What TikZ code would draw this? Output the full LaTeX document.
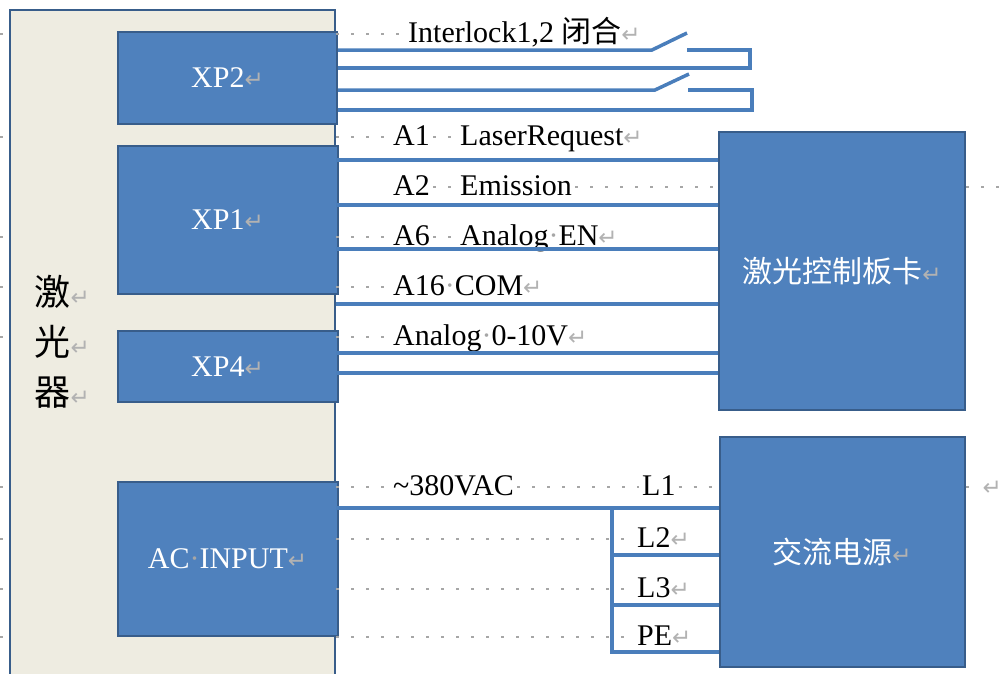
\documentclass[tikz,border=0pt]{standalone}
\usepackage{fontspec}
\setmainfont{Liberation Serif}
\newfontfamily\cjk{Noto Sans CJK SC}
\newfontfamily\retfont{DejaVu Sans}
\usetikzlibrary{positioning,calc}
\definecolor{boxblue}{RGB}{79,129,189}
\definecolor{edgeblue}{RGB}{56,93,138}
\definecolor{wireblue}{RGB}{74,126,187}
\definecolor{laserbg}{RGB}{238,236,225}
\newcommand{\retmark}{{\color{gray!60}\retfont\fontsize{23}{23}\selectfont ↵}}
\newcommand{\spmark}{{\color{gray!70}·}}

\begin{document}
\begin{tikzpicture}[
    x=1pt, y=-1pt,
    node distance=20pt,
    box/.style={rectangle, draw=edgeblue, fill=boxblue, line width=2pt, text=white, font=\fontsize{30}{36}\selectfont},
    laserbox/.style={rectangle, draw=edgeblue, fill=laserbg, line width=2.5pt},
    wire/.style={draw=wireblue, line width=3.5pt},
    leader/.style={draw=gray!70, line width=1.2pt, dash pattern=on 3pt off 12pt},
    lbl/.style={inner sep=0pt, inner xsep=3pt, anchor=west, text height=16pt, text depth=0pt, font=\fontsize{30}{36}\selectfont}
]
\clip (0,0) rectangle (1005,673);
\coordinate (ledge) at (0,0);
\coordinate (redge) at (1005,0);

% laser with its connectors
\node[laserbox, minimum width=325pt, minimum height=690pt] (laser) at (172.5,355) {};
\node[anchor=west, align=left, font=\cjk\fontsize{36}{50}\selectfont] (lasertxt) at (31,342) {激\retmark\\光\retmark\\器\retmark};
\node[box, minimum width=219pt, minimum height=92pt] (xp2) at (227.5,78) {XP2\retmark};
\node[box, minimum width=220pt, minimum height=148pt, below=20pt of xp2] (xp1) {XP1\retmark};
\node[box, minimum width=220pt, minimum height=71pt, below=35pt of xp1] (xp4) {XP4\retmark};
\node[box, minimum width=220pt, minimum height=154pt, below=78pt of xp4] (acin) {AC\spmark INPUT\retmark};

% control card and power supply
\node[box, minimum width=246pt, minimum height=278pt] (ctrl) at (842,271) {\cjk 激光控制板卡\retmark};
\node[box, minimum width=245pt, minimum height=230pt, below=25pt of ctrl] (psu) {\cjk 交流电源\retmark};

% signal labels
\node[lbl] (intl) at (405,34) {Interlock1,2 {\cjk 闭合}\retmark};
\node[lbl] (a1) at (390,137) {A1};
\node[lbl] (lreq) at (457,137) {LaserRequest\retmark};
\node[lbl] (a2) at (390,187) {A2};
\node[lbl] (emis) at (457,187) {Emission};
\node[lbl] (a6) at (390,237) {A6};
\node[lbl] (aen) at (457,237) {Analog\spmark EN\retmark};
\node[lbl] (a16) at (390,287) {A16\spmark COM\retmark};
\node[lbl] (ana) at (390,337) {Analog\spmark 0-10V\retmark};
\node[lbl] (vac) at (390,487) {\textasciitilde 380VAC};
\node[lbl] (l1) at (639,487) {L1};
\node[lbl, anchor=east] (rret) at (1005,487) {\retmark};
\node[lbl] (l2) at (634,539) {L2\retmark};
\node[lbl] (l3) at (634,589) {L3\retmark};
\node[lbl] (pe) at (634,637) {PE\retmark};

% tab leaders
\foreach \y in {34,137,237,287,337,487,539,589,637}
    \draw[leader] (ledge |- 0,\y) -- (laser.west |- 0,\y);
\draw[leader] (laser.east |- intl) -- (intl.west);
\draw[leader] (laser.east |- a1) -- (a1.west);
\draw[leader] (a1.east) -- (lreq.west);
\draw[leader] (a2.east) -- (emis.west);
\draw[leader] (emis.east) -- (ctrl.west |- emis);
\draw[leader] (ctrl.east |- emis) -- (redge |- emis);
\draw[leader] (laser.east |- a6) -- (a6.west);
\draw[leader] (a6.east) -- (aen.west);
\draw[leader] (laser.east |- a16) -- (a16.west);
\draw[leader] (laser.east |- ana) -- (ana.west);
\draw[leader] (laser.east |- vac) -- (vac.west);
\draw[leader] (vac.east) -- (l1.west);
\draw[leader] (l1.east) -- (psu.west |- l1);
\draw[leader] (psu.east |- l1) -- (rret.west);
\foreach \n in {l2,l3,pe}
    \draw[leader] (laser.east |- \n) -- (\n.west);

% interlock loops with switches
\draw[wire] (xp2.east |- 0,50) -- (652,50) -- (687,33);
\draw[wire] (687,50) -- (750,50) -- (750,68) -- (xp2.east |- 0,68);
\draw[wire] (xp2.east |- 0,90) -- (655,90) -- (689,74);
\draw[wire] (688,90) -- (752,90) -- (752,110) -- (xp2.east |- 0,110);

% signal wires to control card
\foreach \y in {160,205,249,304,353,373}
    \draw[wire] (laser.east |- 0,\y) -- (ctrl.west |- 0,\y);

% mains wires
\coordinate (acbus) at (612,508);
\draw[wire] (laser.east |- acbus) -- (acbus) -- (psu.west |- acbus);
\draw[wire] (psu.west |- 0,652) -- (acbus |- 0,652) -- (acbus);
\foreach \y in {555,605}
    \draw[wire] (acbus |- 0,\y) -- (psu.west |- 0,\y);
\end{tikzpicture}
\end{document}
